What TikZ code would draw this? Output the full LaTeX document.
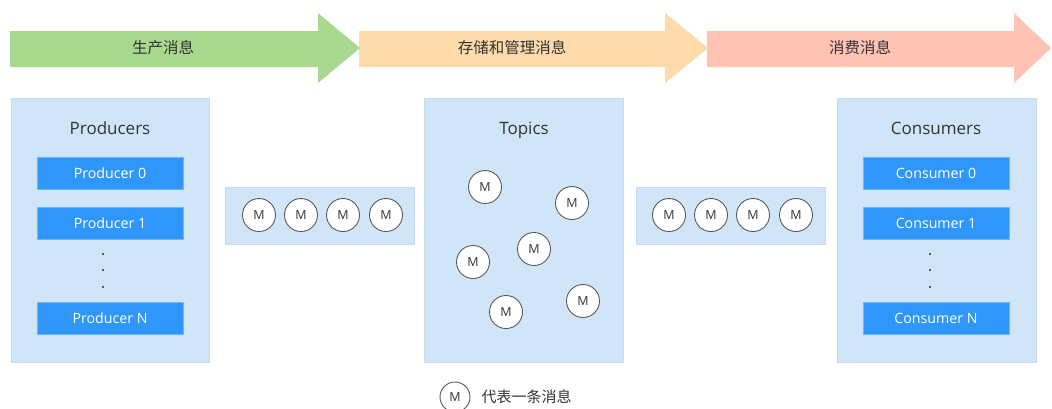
\documentclass[tikz,border=0pt]{standalone}
\usepackage{fontspec}
\setmainfont{Open Sans}
\newfontfamily\cjk{Noto Sans CJK SC}
\definecolor{agreen}{HTML}{A9D98E}
\definecolor{aorange}{HTML}{FDDBAA}
\definecolor{ared}{HTML}{FFC3B3}
\definecolor{panel}{HTML}{D1E5F8}
\definecolor{panelline}{HTML}{C6DAEE}
\definecolor{blk}{HTML}{2F97F9}
\definecolor{txt}{HTML}{333333}
\begin{document}
\begin{tikzpicture}[x=1pt,y=-1pt,
 panelbox/.style={fill=panel, draw=panelline, line width=0.8pt, inner sep=0pt},
 itembox/.style={fill=blk, draw=blk!70!white, text=white, minimum width=146pt, minimum height=32pt, inner sep=0pt, font=\fontsize{14.2}{14.2}\selectfont},
 msg/.style={circle, draw=black!65, fill=white, line width=0.9pt, minimum size=33pt, inner sep=0pt, font=\fontsize{12.5}{12.5}\selectfont, text=txt},
 title/.style={font=\fontsize{17}{17}\selectfont, text=txt, anchor=base},
 arrowlabel/.style={font=\cjk\fontsize{15.5}{15.5}\selectfont, text=txt},
 dotmark/.style={fill=txt, circle, inner sep=0pt, minimum size=2.2pt}]
\useasboundingbox (0,0) rectangle (1052,408);
% process arrows
\fill[ared] (707,31) -- (1014,31) -- (1014,13) -- (1051,48) -- (1014,83) -- (1014,67) -- (707,67) -- cycle;
\fill[aorange] (359,31) -- (665,31) -- (665,13) -- (708,48) -- (665,83) -- (665,67) -- (359,67) -- cycle;
\fill[agreen] (10,31) -- (318,31) -- (318,13) -- (360,48) -- (318,83) -- (318,67) -- (10,67) -- cycle;
\node[arrowlabel] (l1) at (163,48) {生产消息};
\node[arrowlabel] (l2) at (512,48) {存储和管理消息};
\node[arrowlabel] (l3) at (860,48) {消费消息};
% panels
\node[panelbox, minimum width=198pt, minimum height=264pt] (prod) at (110,230) {};
\node[panelbox, minimum width=199pt, minimum height=264pt] (topics) at (523.5,230) {};
\node[panelbox, minimum width=199pt, minimum height=264pt] (cons) at (936.5,230) {};
\node[panelbox, minimum width=189pt, minimum height=57pt] (s1) at (319.5,215.5) {};
\node[panelbox, minimum width=189pt, minimum height=57pt] (s2) at (730.5,215.5) {};
% titles
\node[title] (tp) at (110,134) {Producers};
\node[title] (tt) at (524,134) {Topics};
\node[title] (tc) at (936,134) {Consumers};
% producers
\node[itembox] (p0) at (110,173) {Producer 0};
\node[itembox] (p1) at (110,223) {Producer 1};
\node[itembox] (pn) at (110,318.5) {Producer N};
\node[dotmark] (pd1) at (103,254) {};
\node[dotmark] (pd2) at (103,270) {};
\node[dotmark] (pd3) at (103,287) {};
% consumers
\node[itembox] (c0) at (936,173) {Consumer 0};
\node[itembox] (c1) at (936,223) {Consumer 1};
\node[itembox] (cn) at (936,318.5) {Consumer N};
\node[dotmark] (cd1) at (930,254) {};
\node[dotmark] (cd2) at (930,270) {};
\node[dotmark] (cd3) at (930,287) {};
% message strips
\node[msg] (a1) at (259,215) {M};
\node[msg] (a2) at (301,215) {M};
\node[msg] (a3) at (343,215) {M};
\node[msg] (a4) at (386,215) {M};
\node[msg] (b1) at (669,215) {M};
\node[msg] (b2) at (711,215) {M};
\node[msg] (b3) at (753,215) {M};
\node[msg] (b4) at (796,215) {M};
% topic messages
\node[msg] (t1) at (485,187) {M};
\node[msg] (t2) at (572,203) {M};
\node[msg] (t3) at (534,249) {M};
\node[msg] (t4) at (473,262) {M};
\node[msg] (t5) at (506,312) {M};
\node[msg] (t6) at (583,301) {M};
% legend
\node[msg, minimum size=30pt] (lg) at (455,397) {M};
\node[anchor=west, font=\cjk\fontsize{15}{15}\selectfont, text=txt] (lgt) at (478,397) {代表一条消息};
\end{tikzpicture}
\end{document}
